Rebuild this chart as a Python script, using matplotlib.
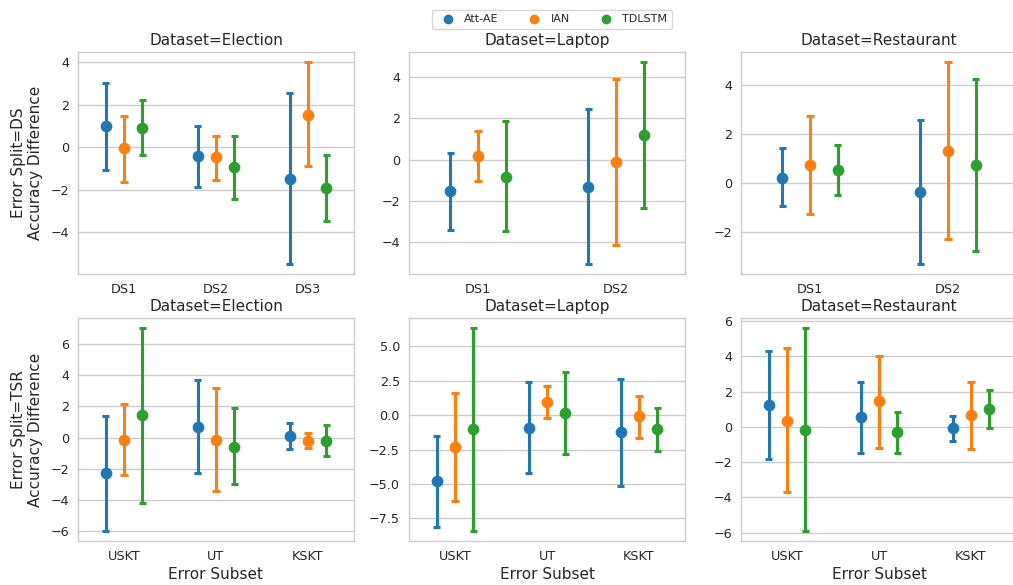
import matplotlib
matplotlib.use("Agg")
import matplotlib.pyplot as plt
import seaborn as sns
import numpy as np
from matplotlib.lines import Line2D
from matplotlib.ticker import MultipleLocator

sns.set_style("whitegrid")
plt.rcParams["font.family"] = ["DejaVu Sans"]
plt.rcParams["axes.linewidth"] = 1.0
plt.rcParams["grid.linewidth"] = 1.0

models = ["Att-AE", "IAN", "TDLSTM"]
colors = ["#1f77b4", "#ff7f0e", "#2ca02c"]

ds_subsets_election = ["DS1", "DS2", "DS3"]
ds_subsets_laptop = ["DS1", "DS2"]
ds_subsets_restaurant = ["DS1", "DS2"]
tsr_subsets = ["USKT", "UT", "KSKT"]

# Error Split = DS; each row is a model (Att-AE, IAN, TDLSTM), each column a subset
ds_election_mean = [[1.00, -0.42, -1.48], [-0.05, -0.48, 1.53], [0.92, -0.95, -1.91]]
ds_election_low = [[-1.06, -1.86, -5.48], [-1.61, -1.55, -0.89], [-0.36, -2.44, -3.47]]
ds_election_high = [[3.00, 1.00, 2.53], [1.47, 0.53, 4.00], [2.23, 0.53, -0.36]]

ds_laptop_mean = [[-1.52, -1.32], [0.16, -0.13], [-0.82, 1.18]]
ds_laptop_low = [[-3.42, -5.06], [-1.05, -4.14], [-3.48, -2.35]]
ds_laptop_high = [[0.32, 2.45], [1.37, 3.90], [1.85, 4.73]]

ds_restaurant_mean = [[0.23, -0.36], [0.73, 1.32], [0.54, 0.73]]
ds_restaurant_low = [[-0.92, -3.28], [-1.27, -2.27], [-0.50, -2.77]]
ds_restaurant_high = [[1.42, 2.55], [2.73, 4.92], [1.55, 4.23]]

# Error Split = TSR
tsr_election_mean = [[-2.29, 0.68, 0.13], [-0.15, -0.15, -0.21], [1.43, -0.60, -0.21]]
tsr_election_low = [[-5.96, -2.24, -0.73], [-2.37, -3.40, -0.64], [-4.17, -2.97, -1.20]]
tsr_election_high = [[1.37, 3.65, 0.96], [2.12, 3.18, 0.30], [6.99, 1.90, 0.79]]

tsr_laptop_mean = [[-4.81, -0.90, -1.24], [-2.28, 0.92, -0.07], [-1.04, 0.15, -1.04]]
tsr_laptop_low = [[-8.11, -4.22, -5.15], [-6.21, -0.24, -1.63], [-8.40, -2.84, -2.60]]
tsr_laptop_high = [[-1.53, 2.38, 2.65], [1.58, 2.14, 1.41], [6.31, 3.16, 0.51]]

tsr_restaurant_mean = [[1.25, 0.55, -0.09], [0.34, 1.44, 0.66], [-0.19, -0.28, 1.00]]
tsr_restaurant_low = [[-1.82, -1.46, -0.82], [-3.68, -1.20, -1.25], [-5.90, -1.46, -0.04]]
tsr_restaurant_high = [[4.33, 2.52, 0.63], [4.46, 4.00, 2.52], [5.60, 0.87, 2.10]]

panels = [
    # row, col, title, subsets, mean, low, high, tick step
    (0, 0, "Dataset=Election", ds_subsets_election, ds_election_mean, ds_election_low, ds_election_high, 2),
    (0, 1, "Dataset=Laptop", ds_subsets_laptop, ds_laptop_mean, ds_laptop_low, ds_laptop_high, 2),
    (0, 2, "Dataset=Restaurant", ds_subsets_restaurant, ds_restaurant_mean, ds_restaurant_low, ds_restaurant_high, 2),
    (1, 0, "Dataset=Election", tsr_subsets, tsr_election_mean, tsr_election_low, tsr_election_high, 2),
    (1, 1, "Dataset=Laptop", tsr_subsets, tsr_laptop_mean, tsr_laptop_low, tsr_laptop_high, 2.5),
    (1, 2, "Dataset=Restaurant", tsr_subsets, tsr_restaurant_mean, tsr_restaurant_low, tsr_restaurant_high, 2),
]
row_labels = ["Error Split=DS\nAccuracy Difference", "Error Split=TSR\nAccuracy Difference"]

W, H = 1013, 585
fig = plt.figure(figsize=(W / 100, H / 100), dpi=100)

col_left = [78, 409, 741]
ax_width = 276
row_top = [52, 318]
row_height = [222, 223]

text_color = "0.15"
dodge = 0.2
cap_half_px = 3.6

for row, col, title, subsets, mean, low, high, step in panels:
    ax = fig.add_axes([col_left[col] / W, 1 - (row_top[row] + row_height[row]) / H,
                       ax_width / W, row_height[row] / H])
    n = len(subsets)
    idx = np.arange(n)
    cap = cap_half_px * n / ax_width
    for j, color in enumerate(colors):
        xs = idx + (j - 1) * dodge
        lo = np.array(low[j])
        hi = np.array(high[j])
        ax.vlines(xs, lo, hi, color=color, lw=2.2)
        ax.hlines(lo, xs - cap, xs + cap, color=color, lw=2.2)
        ax.hlines(hi, xs - cap, xs + cap, color=color, lw=2.2)
        ax.plot(xs, mean[j], "o", ms=7.4, color=color, zorder=5)
    ax.set_xlim(-0.5, n - 0.5)
    ax.set_xticks(idx)
    ax.set_xticklabels(subsets)
    ax.yaxis.set_major_locator(MultipleLocator(step))
    ax.xaxis.grid(False)
    ax.tick_params(axis="both", labelsize=9.2, colors=text_color, pad=3)
    ax.set_title(title, fontsize=11, color=text_color, pad=5)
    for s in ax.spines.values():
        s.set_color("0.8")
    if col == 0:
        ax.set_ylabel(row_labels[row], fontsize=11, color=text_color, labelpad=5)
    if row == 1:
        ax.set_xlabel("Error Subset", fontsize=11, color=text_color, labelpad=3)

handles = [Line2D([], [], marker="o", ls="", color=c, ms=6) for c in colors]
fig.legend(handles, models, loc="center", bbox_to_anchor=(552 / W, 1 - 19.5 / H), ncol=3,
           fontsize=8, handlelength=2, handletextpad=0.5, columnspacing=2.2,
           frameon=True, edgecolor="0.8", borderpad=0.4)

fig.savefig("out.png", dpi=100)
